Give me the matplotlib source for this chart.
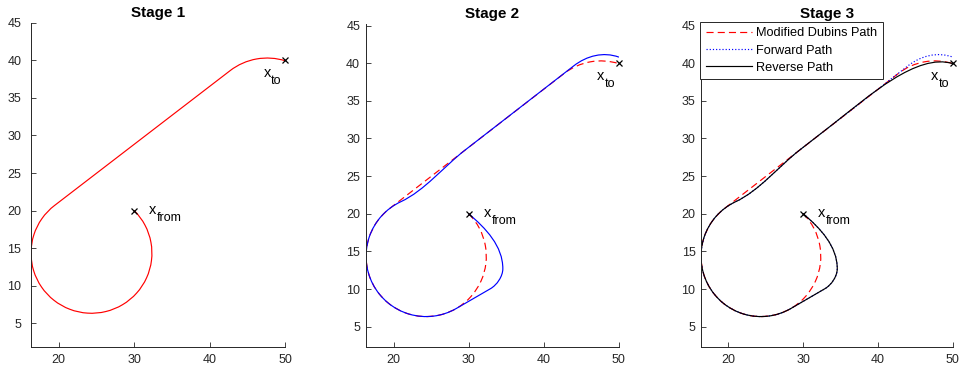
import numpy as np
import matplotlib
matplotlib.use('Agg')
import matplotlib.pyplot as plt
from matplotlib.path import Path
from matplotlib.patches import PathPatch
from matplotlib.lines import Line2D

plt.rcParams['font.family'] = ['Liberation Sans', 'DejaVu Sans']

# end points of the manoeuvre
x_from = (30.0, 20.0)
x_to = (50.0, 40.0)

# modified Dubins path: right turn, straight, right turn (radius 8)
turn_radius = 8.0
circle_from = (24.35, 14.35)
circle_to = (47.6, 32.3)
tangent_angle = 127.7
dubins_arcs = [(circle_from, 45.0, tangent_angle - 360.0),
               (circle_to, tangent_angle, 72.5)]

# forward path (bezier control points)
fwd_start_curves = [[(32.3, 18.07), (34.55, 15.7), (34.55, 12.7)],
                    [(34.55, 11.7), (33.77, 10.55), (32.9, 10.05)]]
fwd_join = (28.35, 7.42)
fwd_arc = (circle_from, -60.0, -245.0)
fwd_merge_curve = [(24.14, 23.08), (26.73, 26.3), (29.5, 28.44)]
fwd_line_end = (44.0, 39.65)
fwd_end_curve = [(45.74, 40.99), (47.93, 41.55), (50.0, 40.8)]

# reverse path shares the start of the forward path
rev_line_end = (34.0, 31.92)
rev_end_curve = [(38.75, 35.59), (45.23, 41.43), (50.0, 39.93)]


def build_path(start, pieces):
    verts = [start]
    codes = [Path.MOVETO]
    for kind, arg in pieces:
        if kind == 'line':
            verts.append(arg)
            codes.append(Path.LINETO)
        elif kind == 'curve':
            verts.extend(arg)
            codes.extend([Path.CURVE4] * 3)
        elif kind == 'arc':
            c, a0, a1 = arg          # clockwise from a0 to a1
            p = Path.arc(a1, a0)
            v = p.vertices[::-1] * turn_radius + np.asarray(c)
            verts.append(v[0])
            codes.append(Path.LINETO)
            verts.extend(v[1:])
            codes.extend([Path.CURVE4] * (len(v) - 1))
    return Path(np.asarray(verts, float), codes)


dubins = build_path(x_from, [('arc', dubins_arcs[0]), ('arc', dubins_arcs[1])])

common = [('curve', fwd_start_curves[0]), ('curve', fwd_start_curves[1]),
          ('line', fwd_join), ('arc', fwd_arc), ('curve', fwd_merge_curve)]
forward = build_path(x_from, common + [('line', fwd_line_end), ('curve', fwd_end_curve)])
reverse = build_path(x_from, common + [('line', rev_line_end), ('curve', rev_end_curve)])

fig = plt.figure(figsize=(9.63, 3.75), dpi=100)
W, H = 963.0, 375.0
boxes = [(31, 285.3, 22.7, 346.7), (365.7, 619.3, 24, 346.7), (701, 953.3, 24, 346.7)]
xlims = [(16.35, 50.0), (16.3, 50.05), (16.35, 50.05)]
ylims = [(1.9, 44.75), (2.35, 45.2), (2.35, 45.2)]

axes = []
for i, (l, r, t, b) in enumerate(boxes):
    ax = fig.add_axes([l / W, 1 - b / H, (r - l) / W, (b - t) / H])
    ax.set_xlim(*xlims[i])
    ax.set_ylim(*ylims[i])
    ax.set_xticks([20, 30, 40, 50])
    ax.set_yticks(np.arange(5, 50, 5))
    for s in ['top', 'right']:
        ax.spines[s].set_visible(False)
    for s in ['left', 'bottom']:
        ax.spines[s].set_color('#262626')
        ax.spines[s].set_linewidth(0.7)
    ax.tick_params(direction='in', length=3.5, width=0.6, colors='#262626',
                   labelsize=9)
    ax.tick_params(axis='x', pad=5.5)
    ax.tick_params(axis='y', pad=7 if i == 0 else 4)
    ax.set_title('Stage %d' % (i + 1), fontsize=11, fontweight='bold', pad=4)
    axes.append(ax)

lw = 0.85
dash = (0, (6, 3.5))
dots = (0, (1, 1.7))

axes[0].add_patch(PathPatch(dubins, fill=False, edgecolor='red', lw=lw))

axes[1].add_patch(PathPatch(dubins, fill=False, edgecolor='red', lw=lw, linestyle=dash))
axes[1].add_patch(PathPatch(forward, fill=False, edgecolor='blue', lw=lw))

axes[2].add_patch(PathPatch(dubins, fill=False, edgecolor='red', lw=lw, linestyle=dash))
axes[2].add_patch(PathPatch(forward, fill=False, edgecolor='blue', lw=lw, linestyle=dots))
axes[2].add_patch(PathPatch(reverse, fill=False, edgecolor='black', lw=lw))

for ax in axes:
    ax.plot([x_from[0], x_to[0]], [x_from[1], x_to[1]], 'kx', ms=5, mew=0.9,
            zorder=5, clip_on=False)
    for (px, py), sub in [((32.0, 20.0), 'from'), ((47.1, 38.2), 'to')]:
        ax.annotate('x', xy=(px, py), xytext=(0, -2.6), textcoords='offset points',
                    fontsize=10.5, va='baseline', ha='left')
        ax.annotate(sub, xy=(px, py), xytext=(5.6, -7.4), textcoords='offset points',
                    fontsize=9, va='baseline', ha='left')

handles = [Line2D([], [], color='red', lw=lw, linestyle=dash),
           Line2D([], [], color='blue', lw=lw, linestyle=dots),
           Line2D([], [], color='black', lw=lw)]
labels = ['Modified Dubins Path', 'Forward Path', 'Reverse Path']
leg = axes[2].legend(handles, labels, loc='upper left', fontsize=9.2,
                     bbox_to_anchor=(700 / W, 1 - 21.7 / H), bbox_transform=fig.transFigure,
                     borderaxespad=0, fancybox=False, framealpha=1, edgecolor='#262626',
                     handlelength=3.6, handletextpad=0.35, labelspacing=0.4,
                     borderpad=0.45)
leg.get_frame().set_linewidth(0.7)

plt.savefig('out.png', dpi=100)
